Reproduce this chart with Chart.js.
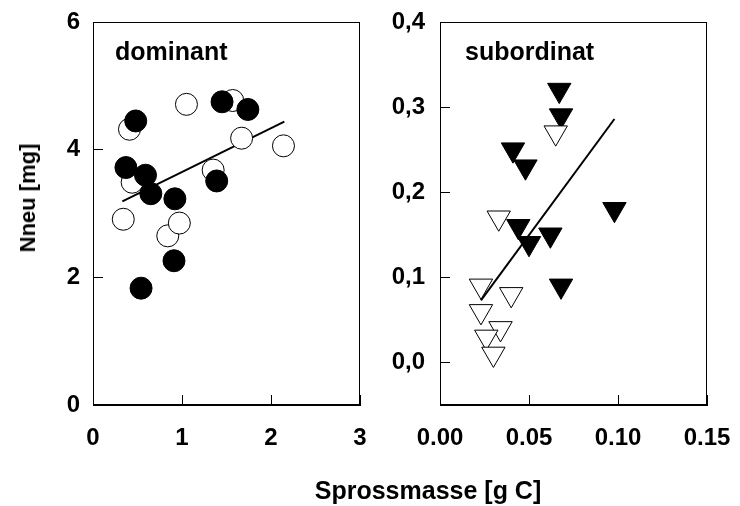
<!DOCTYPE html>
<html>
<head>
<meta charset="utf-8">
<script src="https://cdn.jsdelivr.net/npm/chart.js@4.4.1/dist/chart.umd.min.js"></script>
<style>
  body { margin: 0; background: #fff; }
  #wrap { position: relative; width: 740px; height: 506px; background: #fff; font-family: "Liberation Sans", Arial, sans-serif; }
  canvas { position: absolute; top: 0; }
  #cLeft { left: 0; }
  #cRight { left: 378px; }
  .title { position: absolute; font-weight: bold; color: #000; white-space: nowrap; }
  #yTitle { font-size: 22px; left: 28px; top: 198px; transform: translate(-50%, -50%) rotate(-90deg); }
  #xTitle { font-size: 25px; left: 428px; top: 490px; transform: translate(-50%, -50%); }
</style>
</head>
<body>
<div id="wrap">
  <canvas id="cLeft" width="378" height="506"></canvas>
  <canvas id="cRight" width="362" height="506"></canvas>
  <div class="title" id="yTitle">Nneu [mg]</div>
  <div class="title" id="xTitle">Sprossmasse [g C]</div>
</div>
<script>
// dominant panel (circles)
const domFilledX = [0.48, 1.45, 1.74, 0.37, 0.59, 0.65, 0.92, 1.39, 0.91, 0.54];
const domFilledY = [4.45, 4.75, 4.63, 3.72, 3.60, 3.31, 3.23, 3.51, 2.26, 1.83];
const domOpenX = [0.41, 1.05, 1.57, 1.67, 2.14, 1.35, 0.44, 0.34, 0.84, 0.97];
const domOpenY = [4.32, 4.71, 4.77, 4.18, 4.06, 3.68, 3.49, 2.91, 2.65, 2.85];
const domLineX = [0.33, 2.15];
const domLineY = [3.19, 4.44];
const domXTicks = [0, 1, 2, 3];
const domYTicks = [0, 2, 4, 6];

// subordinat panel (triangles)
const subFilledX = [0.067, 0.068, 0.041, 0.048, 0.044, 0.050, 0.062, 0.098, 0.068];
const subFilledY = [0.32, 0.29, 0.25, 0.23, 0.16, 0.14, 0.15, 0.18, 0.09];
const subOpenX = [0.065, 0.033, 0.023, 0.040, 0.023, 0.034, 0.026, 0.030];
const subOpenY = [0.27, 0.17, 0.09, 0.08, 0.06, 0.04, 0.03, 0.01];
const subLineX = [0.023, 0.098];
const subLineY = [0.073, 0.286];
const subXTicks = [0, 0.05, 0.10, 0.15];
const subYTicks = [0, 0.1, 0.2, 0.3, 0.4];

const pts = (xs, ys) => xs.map((x, i) => ({ x: x, y: ys[i] }));
const tickFont = { family: '"Liberation Sans", Arial, sans-serif', size: 24, weight: 'bold' };

// box round the plot area plus the panel name
const frame = {
    id: 'frame',
    afterDraw(chart, args, opts) {
        const { ctx, chartArea: a } = chart;
        ctx.save();
        ctx.strokeStyle = '#000';
        ctx.lineWidth = 1;
        ctx.strokeRect(a.left + 0.5, a.top + 0.5, a.right - a.left - 1, a.bottom - a.top - 1);
        ctx.fillStyle = '#000';
        ctx.font = 'bold 25px "Liberation Sans", Arial, sans-serif';
        ctx.textBaseline = 'alphabetic';
        ctx.fillText(opts.label, a.left + opts.dx, a.top + 38);
        ctx.restore();
    }
};

// fixed axis size, and no extra room asked for the tick labels
function fixSize(prop, size) {
    return s => {
        s[prop] = size;
        s.paddingTop = s.paddingBottom = s.paddingLeft = s.paddingRight = 0;
    };
}

function axis(ticks, fmt, min, max, fit, pad) {
    return {
        type: 'linear',
        min: min,
        max: max,
        afterBuildTicks: s => { s.ticks = ticks.map(v => ({ value: v })); },
        afterFit: fit,
        grid: { drawOnChartArea: false, drawTicks: true, tickLength: -10, color: '#000' },
        border: { display: true, color: '#000', width: 1 },
        ticks: { color: '#000', font: tickFont, padding: pad, maxRotation: 0, autoSkip: false, callback: fmt }
    };
}

function makeChart(id, cfg) {
    return new Chart(document.getElementById(id), {
        type: 'scatter',
        data: { datasets: cfg.datasets },
        options: {
            responsive: false,
            animation: false,
            layout: { padding: cfg.padding },
            plugins: { legend: { display: false }, tooltip: { enabled: false }, frame: { label: cfg.label, dx: cfg.dx } },
            scales: { x: cfg.x, y: cfg.y }
        },
        plugins: [frame]
    });
}

makeChart('cLeft', {
    label: 'dominant',
    dx: 22,
    padding: { left: 0, top: 22, right: 18, bottom: 61 },
    datasets: [
        { type: 'line', data: pts(domLineX, domLineY), borderColor: '#000', borderWidth: 2, pointRadius: 0, fill: false, order: 3 },
        { data: pts(domOpenX, domOpenY), pointStyle: 'circle', radius: 11, backgroundColor: '#fff', borderColor: '#000', borderWidth: 1, order: 2 },
        { data: pts(domFilledX, domFilledY), pointStyle: 'circle', radius: 11, backgroundColor: '#000', borderColor: '#000', borderWidth: 1, order: 1 }
    ],
    x: axis(domXTicks, v => String(v), 0, 3, fixSize('height', 40), 29),
    y: axis(domYTicks, v => String(v), 0, 6, fixSize('width', 93), 23)
});

makeChart('cRight', {
    label: 'subordinat',
    dx: 25,
    padding: { left: 0, top: 22, right: 33, bottom: 61 },
    datasets: [
        { type: 'line', data: pts(subLineX, subLineY), borderColor: '#000', borderWidth: 2, pointRadius: 0, fill: false, order: 3 },
        { data: pts(subFilledX, subFilledY), pointStyle: 'triangle', rotation: 180, radius: 13.5, backgroundColor: '#000', borderColor: '#000', borderWidth: 1, order: 2 },
        { data: pts(subOpenX, subOpenY), pointStyle: 'triangle', rotation: 180, radius: 13.5, backgroundColor: '#fff', borderColor: '#000', borderWidth: 1, order: 1 }
    ],
    x: axis(subXTicks, v => v.toFixed(2).replace('.', ','), 0, 0.15, fixSize('height', 40), 29),
    y: axis(subYTicks, v => v.toFixed(1).replace('.', ','), -0.05, 0.4, fixSize('width', 62), 25)
});
</script>
</body>
</html>
